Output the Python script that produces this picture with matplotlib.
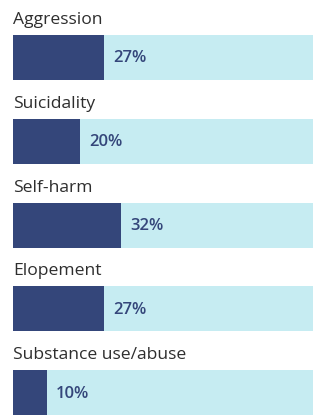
import matplotlib
matplotlib.use('Agg')
import matplotlib.pyplot as plt

categories = ['Aggression', 'Suicidality', 'Self-harm', 'Elopement', 'Substance use/abuse']
percents = [27, 20, 32, 27, 10]

dark = '#34467a'
light = '#c6ecf2'
label_color = '#2e2e2e'

plt.rcParams['font.family'] = ['Open Sans', 'DejaVu Sans']

fig = plt.figure(figsize=(3.13, 4.16), dpi=100)
# axes run from the left edge of the bars to the right edge of the image
ax = fig.add_axes([13 / 313, 0, 300 / 313, 1])
ax.set_xlim(0, 89)
ax.set_ylim(416, 0)
ax.axis('off')

first_top = 35
step = 83.75
bar_h = 45

for i, (cat, p) in enumerate(zip(categories, percents)):
    top = first_top + i * step
    ax.barh(top + bar_h / 2, 100, height=bar_h, color=light)
    ax.barh(top + bar_h / 2, p, height=bar_h, color=dark)
    ax.text(0, top - 11, cat, fontsize=12.6, color=label_color,
            ha='left', va='baseline')
    ax.text(p + 2.7, top + bar_h / 2 + 1, f'{p}%', fontsize=12, fontweight='semibold',
            color=dark, ha='left', va='center')

fig.savefig('out.png', dpi=100)
